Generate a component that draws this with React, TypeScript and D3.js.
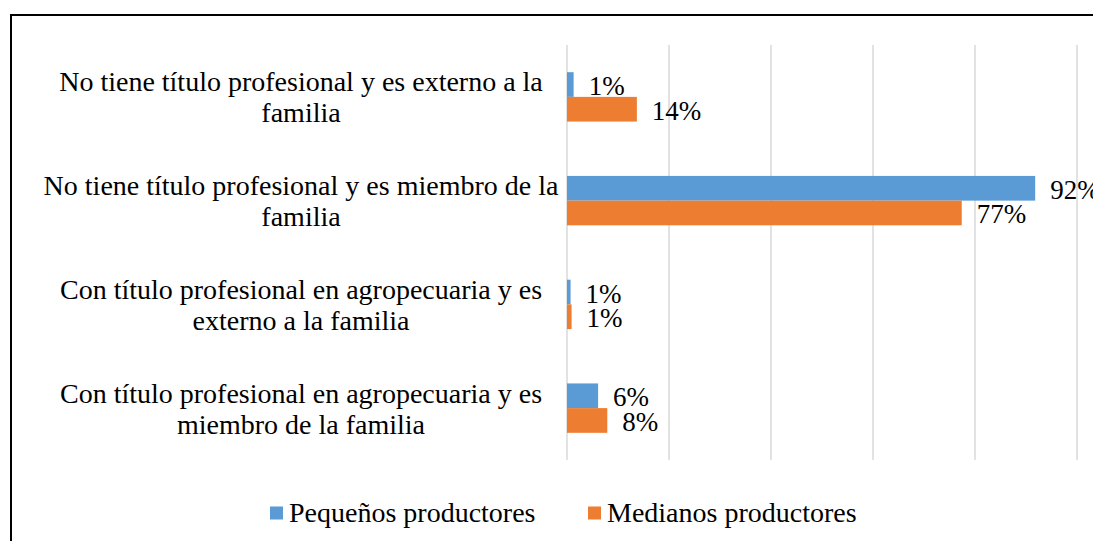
import { useRef, useEffect } from 'react';
import * as d3 from 'd3';

// データ
const categories = [
  'No tiene título profesional y es externo a la\nfamilia',
  'No tiene título profesional y es miembro de la\nfamilia',
  'Con título profesional en agropecuaria y es\nexterno a la familia',
  'Con título profesional en agropecuaria y es\nmiembro de la familia',
];
const seriesNames = ['Pequeños productores', 'Medianos productores'];
const pequenos = [0.013, 0.918, 0.007, 0.061];
const medianos = [0.137, 0.774, 0.009, 0.079];
const colors = ['#5B9BD5', '#ED7D31'];

const W = 1093;
const H = 541;
const FONT = "'Liberation Serif', Tinos, 'DejaVu Serif', serif";

export default function App() {
  const svgRef = useRef<SVGSVGElement | null>(null);

  useEffect(() => {
    const svg = d3.select(svgRef.current).html('');

    // 枠
    svg.append('rect')
      .attr('x', 11).attr('y', 15)
      .attr('width', W + 20).attr('height', H + 20)
      .attr('fill', '#fff')
      .attr('stroke', '#000')
      .attr('stroke-width', 2);

    const x = d3.scaleLinear().domain([0, 1]).range([567, 1077]);
    const y0 = d3.scaleBand<string>()
      .domain(categories)
      .range([45, 460])
      .paddingInner(0.524)
      .paddingOuter(0.262);
    const y1 = d3.scaleBand<string>()
      .domain(seriesNames)
      .range([0, y0.bandwidth()]);

    // グリッド
    svg.append('g')
      .selectAll('line')
      .data(x.ticks(5))
      .enter()
      .append('line')
      .attr('x1', d => x(d)).attr('x2', d => x(d))
      .attr('y1', 45).attr('y2', 460)
      .attr('stroke', '#D9D9D9')
      .attr('stroke-width', 1.5);

    // カテゴリラベル
    const catG = svg.append('g')
      .style('font-family', FONT)
      .style('font-size', '28px')
      .attr('fill', '#000')
      .attr('text-anchor', 'middle');
    categories.forEach(c => {
      const cy = (y0(c) as number) + y0.bandwidth() / 2;
      const t = catG.append('text').attr('x', 301).attr('y', cy - 5.5);
      c.split('\n').forEach((line, i) => {
        t.append('tspan')
          .attr('x', 301)
          .attr('dy', i === 0 ? 0 : 31)
          .text(line);
      });
    });

    // バー
    const rows = categories.map((c, i) => ({ c, vals: [pequenos[i], medianos[i]] }));
    const groups = svg.append('g')
      .selectAll('g')
      .data(rows)
      .enter()
      .append('g')
      .attr('transform', d => `translate(0, ${y0(d.c)})`);

    groups.selectAll('rect')
      .data(d => d.vals.map((v, k) => ({ v, k })))
      .enter()
      .append('rect')
      .attr('x', x(0))
      .attr('y', d => y1(seriesNames[d.k]) as number)
      .attr('width', d => x(d.v) - x(0))
      .attr('height', y1.bandwidth())
      .attr('fill', d => colors[d.k]);

    // 値ラベル
    groups.selectAll('text')
      .data(d => d.vals.map((v, k) => ({ v, k })))
      .enter()
      .append('text')
      .attr('x', d => x(d.v) + 15)
      .attr('y', d => (y1(seriesNames[d.k]) as number) + y1.bandwidth() / 2 + 10.5)
      .style('font-family', FONT)
      .style('font-size', '27px')
      .attr('fill', '#000')
      .text(d => `${Math.round(d.v * 100)}%`);

    // 凡例
    const legendPos = [270, 588];
    const legend = svg.append('g')
      .selectAll('g')
      .data(seriesNames)
      .enter()
      .append('g')
      .attr('transform', (d, i) => `translate(${legendPos[i]}, 506.5)`);
    legend.append('rect')
      .attr('width', 13).attr('height', 13)
      .attr('fill', (d, i) => colors[i]);
    legend.append('text')
      .attr('x', 19)
      .attr('y', 15.2)
      .style('font-family', FONT)
      .style('font-size', '28px')
      .attr('fill', '#000')
      .text(d => d);
  }, []);

  return (
    <svg
      ref={svgRef}
      width={W}
      height={H}
      style={{ position: 'absolute', left: 0, top: 0, background: '#fff' }}
    />
  );
}
